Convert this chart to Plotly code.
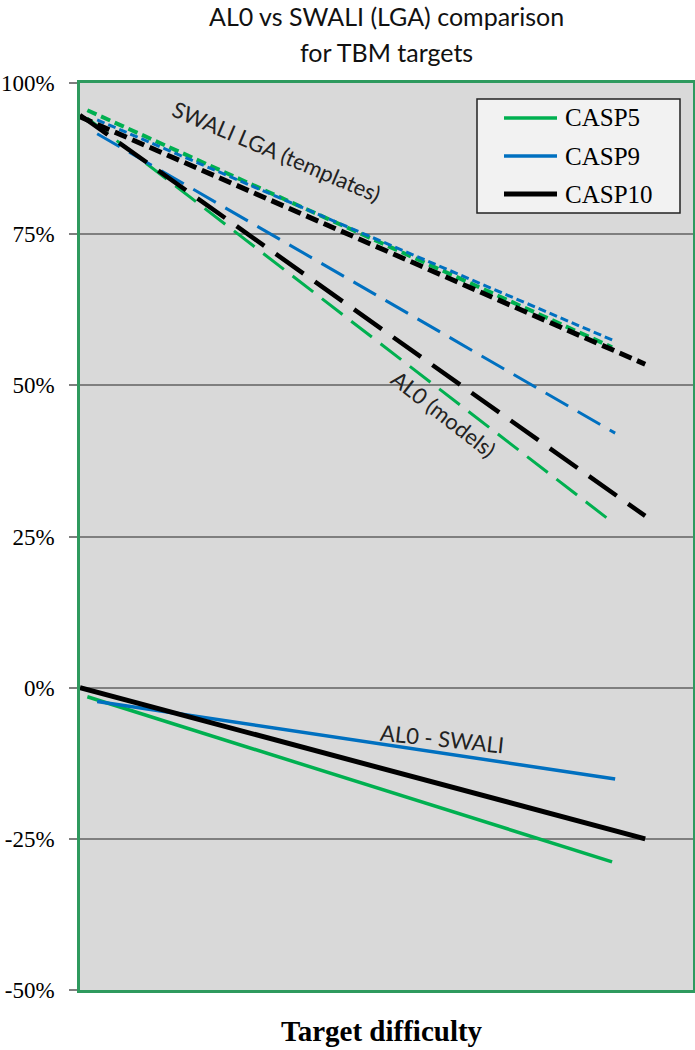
import plotly.graph_objects as go

# ---- data ----
series = ["CASP5", "CASP9", "CASP10"]
colors = {"CASP5": "#00b050", "CASP9": "#0070c0", "CASP10": "#000000"}

# x extent of each trend line (target difficulty, 0-100 scale)
x_start = {"CASP5": 1.2, "CASP9": 2.8, "CASP10": 0.0}
x_end = {"CASP5": 86.8, "CASP9": 87.3, "CASP10": 92.2}

# SWALI LGA (templates) values at start/end (%)
templates_start = {"CASP5": 95.5, "CASP9": 93.9, "CASP10": 94.4}
templates_end = {"CASP5": 56.3, "CASP9": 57.3, "CASP10": 53.5}

# AL0 (models) values at start/end (%)
models_start = {"CASP5": 94.2, "CASP9": 91.6, "CASP10": 94.7}
models_end = {"CASP5": 27.4, "CASP9": 42.1, "CASP10": 28.4}

# AL0 - SWALI differences at start/end (%)
diff_start = {"CASP5": -1.5, "CASP9": -2.3, "CASP10": 0.0}
diff_end = {"CASP5": -28.8, "CASP9": -15.1, "CASP10": -25.0}

y_ticks = [-50, -25, 0, 25, 50, 75, 100]
y_ticktext = [f"{v}%" for v in y_ticks]

# ---- styles ----
w_templates = {"CASP5": 4, "CASP9": 3, "CASP10": 5}
d_templates = {"CASP5": "10px,5px", "CASP9": "8px,4px", "CASP10": "13px,6px"}
w_models = {"CASP5": 3, "CASP9": 3, "CASP10": 4.5}
d_models = {"CASP5": "26px,11px", "CASP9": "26px,11px", "CASP10": "34px,14px"}
w_diff = {"CASP5": 3.5, "CASP9": 3.5, "CASP10": 5}

fig = go.Figure()

for s in series:
    xs = [x_start[s], x_end[s]]
    fig.add_trace(go.Scatter(x=xs, y=[models_start[s], models_end[s]], mode="lines",
                             line=dict(color=colors[s], width=w_models[s], dash=d_models[s]),
                             showlegend=False, hoverinfo="skip"))
for s in series:
    xs = [x_start[s], x_end[s]]
    fig.add_trace(go.Scatter(x=xs, y=[templates_start[s], templates_end[s]], mode="lines",
                             line=dict(color=colors[s], width=w_templates[s], dash=d_templates[s]),
                             showlegend=False, hoverinfo="skip"))
for s in series:
    xs = [x_start[s], x_end[s]]
    fig.add_trace(go.Scatter(x=xs, y=[diff_start[s], diff_end[s]], mode="lines",
                             line=dict(color=colors[s], width=w_diff[s]),
                             showlegend=False, hoverinfo="skip"))

W, H = 695, 1050
L, R, T, B = 80, 2, 83, 60
pw, ph = W - L - R, H - T - B


def px_x(p):  # page pixel -> paper coord
    return (p - L) / pw


def px_y(p):
    return (H - B - p) / ph


annotations = []
shapes = []


def label(text, x, y, font, angle=0, xanchor="center"):
    annotations.append(dict(text=text, x=px_x(x), y=px_y(y), xref="paper", yref="paper",
                            xanchor=xanchor, yanchor="middle", showarrow=False,
                            textangle=angle, font=font))


title_font = dict(family="Lato", size=25, color="#111111")
label("AL0 vs SWALI (LGA) comparison", 386, 16, title_font)
label("for TBM targets", 386, 52, title_font)
label("<b>Target difficulty</b>", 382, 1031,
      dict(family="Liberation Serif", size=29, color="#000000"))

lab_font = dict(family="Lato", size=22, color="#222222")
label("SWALI LGA (templates)", 277, 151, lab_font, angle=23)
label("AL0 (models)", 443, 414, lab_font, angle=38)
label("AL0 - SWALI", 442, 738, lab_font, angle=6)

# manual legend box
shapes.append(dict(type="rect", xref="paper", yref="paper",
                   x0=px_x(477), x1=px_x(680), y0=px_y(213), y1=px_y(99),
                   fillcolor="#f2f2f2", line=dict(color="#222222", width=1.5), layer="above"))
leg_y = [118, 156, 194]
leg_w = {"CASP5": 3.5, "CASP9": 3.5, "CASP10": 5}
leg_font = dict(family="Liberation Serif", size=25, color="#000000")
for s, yy in zip(series, leg_y):
    shapes.append(dict(type="line", xref="paper", yref="paper",
                       x0=px_x(504), x1=px_x(557), y0=px_y(yy), y1=px_y(yy),
                       line=dict(color=colors[s], width=leg_w[s]), layer="above"))
    label(s, 563, yy, leg_font, xanchor="left")

border = "#2e9a5e"
fig.update_layout(
    width=W, height=H,
    margin=dict(l=L, r=R, t=T, b=B, pad=0, autoexpand=False),
    paper_bgcolor="white", plot_bgcolor="#d9d9d9",
    showlegend=False,
    annotations=annotations, shapes=shapes,
    xaxis=dict(range=[0, 100], showgrid=False, zeroline=False, showticklabels=False,
               automargin=False,
               ticks="", showline=True, mirror=True, linecolor=border, linewidth=2.5),
    yaxis=dict(range=[-50, 100], tickvals=y_ticks, ticktext=y_ticktext,
               automargin=False,
               showgrid=True, gridcolor="#7f7f7f", gridwidth=1.5, zeroline=False,
               ticks="outside", ticklen=8, tickcolor="#7f7f7f", tickwidth=1.5,
               ticklabelstandoff=10,
               tickfont=dict(family="Liberation Serif", size=23, color="#000000"),
               showline=True, mirror=True, linecolor=border, linewidth=2.5),
)

# remove the default 8px page margin so the figure fills the window exactly
fig.write_html("out.html",
               config={"displayModeBar": False},
               post_script="document.body.style.margin='0px';document.body.style.overflow='hidden';")
